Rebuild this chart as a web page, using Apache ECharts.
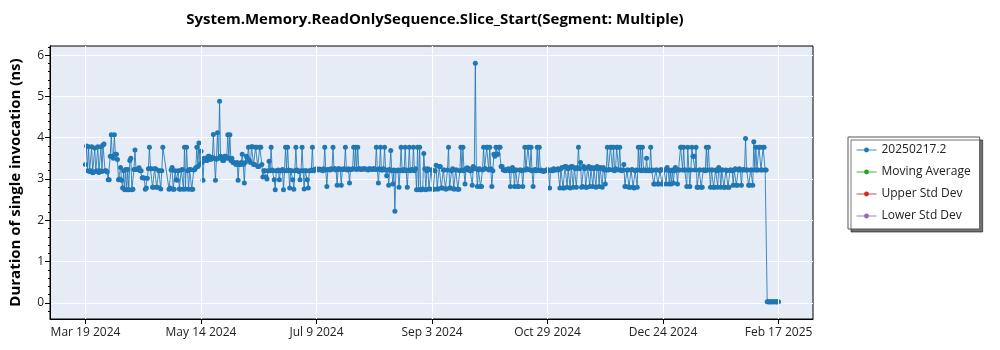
<!DOCTYPE html>
<html>
<head>
<meta charset="utf-8">
<script src="https://cdn.jsdelivr.net/npm/echarts@6/dist/echarts.min.js"></script>
<style>html,body{margin:0;padding:0;background:#fff}#c{width:1000px;height:350px}</style>
</head>
<body>
<div id="c"></div>
<script>
// x in days since Mar 19 2024
const tickDays = [0, 56, 112, 168, 224, 280, 336];
const tickLabels = ['Mar 19 2024', 'May 14 2024', 'Jul 9 2024', 'Sep 3 2024', 'Oct 29 2024', 'Dec 24 2024', 'Feb 17 2025'];
const yTicks = [0, 1, 2, 3, 4, 5, 6];
const yMinorTicks = [-0.2, 0.2, 0.4, 0.6, 0.8, 1.2, 1.4, 1.6, 1.8, 2.2, 2.4, 2.6, 2.8, 3.2, 3.4, 3.6, 3.8, 4.2, 4.4, 4.6, 4.8, 5.2, 5.4, 5.6, 5.8, 6.2];
const seriesNames = ['20250217.2', 'Moving Average', 'Upper Std Dev', 'Lower Std Dev'];
const firstDay = 0;
const stepDays = 0.5;
// two runs per day from firstDay; null = no run
const durations = [
 3.35,3.8, 3.2,3.78, 3.18,3.2, 3.78,3.15, 3.17,3.75,
 3.18,3.2, 3.78,3.16, 3.2,3.78, 3.18,3.82, 3.85,3.2,
 3.2,3.17, 2.98,2.98, 3.55,4.07, 3.55,3.5, 4.07,3.6,
 3.6,3.47, 2.98,3.0, 3.28,2.97, 2.78,3.2, 2.74,3.23,
 2.74,3.23, 2.74,3.45, 3.5,2.74, 2.75,3.23, 3.7,3.23,
 3.23,3.25, 3.27,3.2, 3.2,3.03, 3.03,3.02, 2.75,2.78,
 3.02,3.25, 3.77,3.25, 3.25,2.8, 2.8,3.25, 3.25,2.8,
 2.8,3.2, 3.2,2.76, 3.2,3.77, null,null, null,null,
 null,2.75, 2.78,3.22, 3.28,2.75, 2.75,3.2, 2.98,2.97,
 3.2,2.76, 2.75,3.22, 3.23,2.75, 3.77,2.76, 3.77,3.2,
 2.75,3.23, 3.23,2.75, 2.75,3.22, 3.23,3.28, 3.77,3.3,
 3.87,3.35, 3.67,3.4, 2.97,3.5, 3.5,3.45, 3.45,3.55,
 3.55,3.48, 3.48,3.52, 4.08,3.5, 2.97,3.48, 4.12,3.5,
 4.88,3.55, 3.5,3.45, 3.45,3.55, 3.55,3.5, 4.07,3.5,
 4.07,3.45, 3.5,3.4, 3.4,3.38, 3.35,3.4, 2.97,3.35,
 3.35,3.4, 3.6,3.35, 2.9,3.4, 3.55,3.5, 3.77,3.45,
 3.4,3.78, 3.78,3.35, 3.35,3.77, 3.77,3.3, 3.3,3.77,
 3.77,3.35, 3.05,3.2, 3.2,3.05, 3.0,3.2, 3.43,3.2,
 3.77,3.22, 3.2,2.98, 2.74,3.2, 3.2,3.22, 2.98,3.2,
 3.2,3.23, 2.74,3.2, 3.77,3.2, 3.77,3.22, 2.78,3.2,
 3.2,2.98, 2.75,3.2, 3.77,3.22, 3.2,3.18, 2.98,3.2,
 3.77,3.2, 2.76,3.2, 3.2,2.98, 2.78,3.2, 3.2,3.22,
 3.77,3.2, 3.23,3.22, 3.25,3.23, 3.22,3.24, 3.23,3.22,
 3.2,3.25, 3.77,3.22, 2.82,3.23, 3.23,3.22, 3.25,3.23,
 3.77,3.25, 3.25,3.22, 2.85,3.25, 3.25,3.23, 2.85,3.24,
 3.23,3.25, 3.77,3.23, 3.22,3.25, 2.9,3.23, 3.23,3.25,
 3.77,3.24, 3.77,3.23, 3.77,3.25, 3.25,3.23, 3.23,3.25,
 3.25,3.24, 3.24,3.23, 3.22,3.25, 3.25,3.23, 3.23,3.25,
 3.25,3.23, 3.77,3.23, 2.9,3.25, 3.77,3.22, 3.22,3.25,
 3.77,3.22, 3.08,3.22, 2.85,3.23, 3.69,3.2, 2.88,3.22,
 2.22,3.2, 3.2,3.22, 2.8,3.2, 3.77,3.22, 3.2,3.23,
 3.77,3.2, 2.8,3.22, 3.77,3.2, 3.23,3.22, 3.77,3.2,
 3.25,2.74, 3.77,2.74, 3.77,2.74, 2.74,2.76, 3.62,3.25,
 2.74,3.2, 3.25,2.76, 2.76,3.22, 3.22,2.75, 2.75,3.2,
 3.33,2.76, 2.76,3.3, 3.3,2.78, 2.78,3.22, 3.22,2.76,
 2.76,3.22, 3.77,2.78, 2.78,3.2, 3.25,2.76, 2.76,3.22,
 3.22,2.75, 2.75,3.2, 3.77,3.22, 3.77,3.2, 2.88,3.25,
 3.27,3.22, 3.25,3.2, 3.2,2.85, 3.3,3.25, 5.8,3.25,
 2.82,3.22, 3.25,2.82, 2.82,3.22, 3.77,3.25, 3.25,3.77,
 3.77,3.22, 3.77,3.25, 2.82,3.2, 3.6,3.55, 3.77,3.6,
 3.6,3.77, 3.77,3.3, 3.3,3.22, 3.22,3.2, 3.23,3.22,
 3.25,3.2, 2.82,3.22, 3.28,3.2, 2.82,3.22, 3.22,2.82,
 2.82,3.22, 3.22,3.2, 2.82,3.22, 3.77,3.22, 3.25,3.77,
 3.77,3.22, 3.77,3.2, 2.82,3.22, 3.23,3.2, 3.77,3.22,
 3.77,3.2, 3.22,3.2, 3.18,3.2, 3.2,3.22, 3.23,3.2,
 2.78,3.22, 3.22,3.2, 3.25,3.22, 3.22,3.23, 3.25,3.22,
 2.78,3.25, 3.28,2.78, 2.78,3.3, 3.3,2.8, 3.25,3.28,
 2.78,3.3, 3.3,2.8, 3.27,3.25, 2.8,3.28, 3.77,3.25,
 3.4,2.8, 2.82,3.3, 3.25,2.8, 2.8,3.28, 3.3,2.82,
 3.25,3.28, 2.82,3.25, 3.27,2.8, 3.3,3.25, 2.82,3.28,
 3.25,2.8, 3.28,3.22, 2.88,3.22, 3.77,3.22, 3.23,3.77,
 3.77,3.22, 3.77,3.2, 3.25,3.77, 3.77,3.22, 3.77,3.22,
 3.2,3.22, 3.35,2.82, 2.82,3.22, 3.22,2.8, 2.8,3.22,
 3.23,2.8, 2.78,3.2, 3.22,2.8, 3.77,3.22, 3.77,3.2,
 3.77,3.22, 3.22,3.2, 3.5,3.22, 3.2,3.22, 3.77,3.2,
 3.22,2.88, 2.88,3.22, 3.22,2.88, 2.88,3.2, 3.23,2.88,
 2.88,3.22, 3.22,2.88, 3.28,3.22, 2.88,3.2, 2.88,3.22,
 2.9,3.2, 3.28,3.22, 2.88,3.22, 3.22,3.77, 3.77,3.22,
 3.77,3.22, 3.22,2.82, 3.77,3.22, 2.82,3.22, 3.77,3.55,
 3.55,3.22, 3.77,2.8, 2.8,3.22, 3.22,2.8, 2.8,3.22,
 3.22,3.2, 3.77,3.22, 3.77,3.22, 2.8,3.22, 3.22,2.8,
 2.8,3.22, 3.2,2.8, 3.28,3.22, 2.8,3.22, 3.22,2.8,
 2.8,3.22, 3.2,2.8, 2.8,3.22, 3.22,3.2, 2.85,3.22,
 3.25,2.85, 2.85,3.22, 3.25,3.22, 2.85,3.22, 3.23,3.22,
 3.98,3.22, 3.22,2.85, 2.85,3.22, 3.22,2.85, 3.9,3.22,
 3.77,3.22, 3.22,3.77, 3.77,3.22, 3.22,3.77, 3.77,3.22,
 3.22,0.03, 0.03,0.02, 0.03,0.03, 0.02,0.03, 0.03,0.03,
 0.02,0.03, 0.03
];
const colors = ['#1f77b4', '#2ca02c', '#d62728', '#9467bd'];

const FONT = 'Open Sans';
const points = durations.map((v, i) => [firstDay + i * stepDays, v]);

const series = seriesNames.map((name, k) => ({
  name: name, type: 'line', yAxisIndex: 0, z: 3,
  data: k === 0 ? points : [],
  symbol: 'circle', symbolSize: 5, connectNulls: true,
  itemStyle: {color: colors[k]},
  lineStyle: {width: 1, color: colors[k], opacity: 0.85}
}));
// vertical grid lines at the date ticks, drawn under the data
series.push({
  name: 'xgrid', type: 'line', data: [], z: 1, silent: true,
  markLine: {
    silent: true, symbol: ['none', 'none'], label: {show: false},
    lineStyle: {color: '#ffffff', width: 1, type: 'solid'},
    emphasis: {disabled: true},
    data: tickDays.map(d => ({xAxis: d}))
  }
});

const chart = echarts.init(document.getElementById('c'), null, {renderer: 'canvas'});
chart.setOption({
  animation: false,
  textStyle: {fontFamily: FONT},
  title: {
    text: 'System.Memory.ReadOnlySequence.Slice_Start(Segment: Multiple)',
    left: 430, top: 7, textAlign: 'center',
    textStyle: {fontFamily: FONT, fontSize: 15, fontWeight: 'bold', color: '#000'}
  },
  legend: {
    orient: 'vertical', left: 848, top: 137,
    data: seriesNames,
    itemWidth: 20, itemHeight: 6, itemGap: 10,
    padding: [7, 9, 7, 8],
    lineStyle: {width: 1},
    backgroundColor: '#fff', borderColor: '#555', borderWidth: 1, borderRadius: 0,
    shadowColor: 'rgba(0,0,0,0.55)', shadowBlur: 0, shadowOffsetX: 3, shadowOffsetY: 3,
    textStyle: {fontFamily: FONT, fontSize: 12, color: '#222'}
  },
  grid: {
    left: 50, right: 187, top: 46, bottom: 31,
    outerBoundsMode: 'none', containLabel: false,
    show: true, backgroundColor: '#e6ecf5', borderColor: '#000', borderWidth: 1
  },
  xAxis: {
    type: 'value', min: -17.2, max: 352.7,
    axisLine: {onZero: false, lineStyle: {color: '#000'}},
    axisTick: {length: 5, lineStyle: {color: '#000'}, customValues: tickDays},
    axisLabel: {customValues: tickDays, color: '#222', fontSize: 12, margin: 8,
      formatter: v => tickLabels[tickDays.indexOf(Math.round(v))] || ''},
    splitLine: {show: false}
  },
  yAxis: [{
    type: 'value', min: -0.39, max: 6.22,
    name: 'Duration of single invocation (ns)', nameLocation: 'middle', nameGap: 27,
    nameTextStyle: {fontFamily: FONT, fontSize: 15, fontWeight: 'bold', color: '#000'},
    axisLine: {show: true, onZero: false, lineStyle: {color: '#000'}},
    axisTick: {show: true, length: 5, lineStyle: {color: '#000'}, customValues: yTicks},
    axisLabel: {customValues: yTicks, color: '#222', fontSize: 12, margin: 6},
    splitLine: {show: true, lineStyle: {color: '#fff', width: 1}}
  }, {
    type: 'value', min: -0.39, max: 6.22, position: 'left', offset: 0,
    axisLine: {show: false, onZero: false},
    axisTick: {show: true, length: 2, lineStyle: {color: '#000'}, customValues: yMinorTicks},
    axisLabel: {show: false},
    splitLine: {show: false}
  }],
  series: series
});
</script>
</body>
</html>
